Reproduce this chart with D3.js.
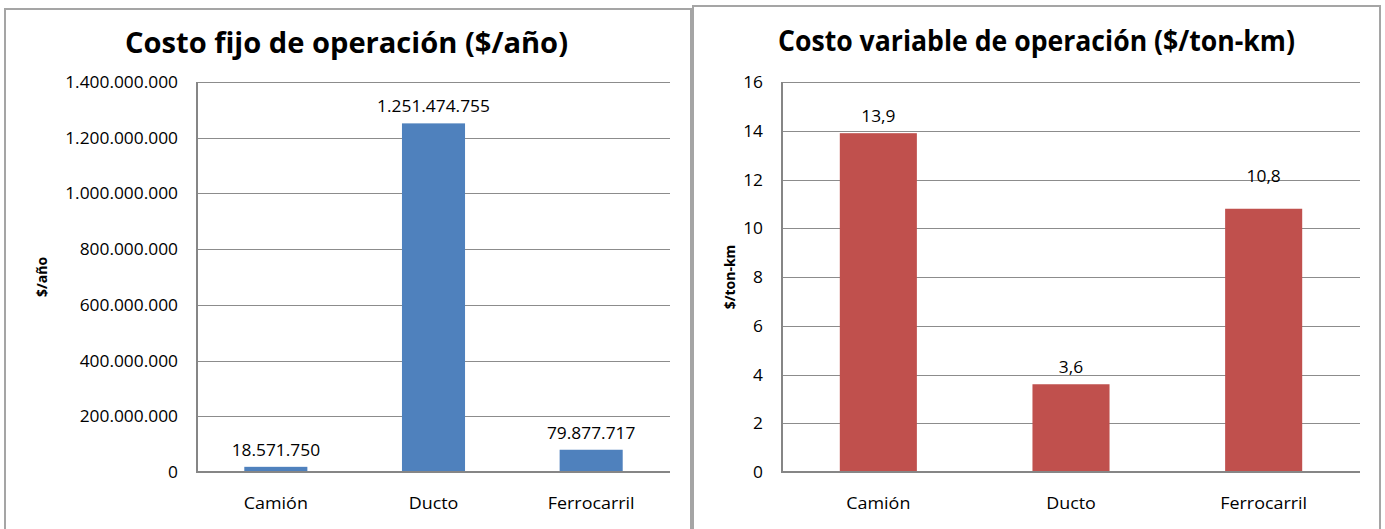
<!DOCTYPE html>
<html>
<head>
<meta charset="utf-8">
<script src="https://cdn.jsdelivr.net/npm/d3@7"></script>
<style>
  html, body { margin: 0; padding: 0; background: #fff; }
  svg { display: block; }
  text { font-family: "Open Sans", "Noto Sans", sans-serif; fill: #000; }
</style>
</head>
<body>
<svg id="chart" width="1385" height="529"></svg>
<script>
// Shared categories
const categories = ["Camión", "Ducto", "Ferrocarril"];

// Fixed operating cost ($/año)
const fixedCost = [18571750, 1251474755, 79877717];
const fixedTicks = [0, 200000000, 400000000, 600000000, 800000000, 1000000000, 1200000000, 1400000000];

// Variable operating cost ($/ton-km)
const variableCost = [13.9, 3.6, 10.8];
const variableTicks = [0, 2, 4, 6, 8, 10, 12, 14, 16];
// extra lift for data labels (px) in the variable-cost chart
const variableLabelLift = [0, 0, 16];

const svg = d3.select("#chart");

// es-style number formats: "." thousands, "," decimals
const esLocale = d3.formatLocale({ decimal: ",", thousands: ".", grouping: [3], currency: ["$", ""] });
const fmtInt = esLocale.format(",d");
const fmtDec = esLocale.format(",.1f");

const SX = 1.12; // horizontal stretch applied to text

function stretched(sel, x, y) {
  return sel.attr("transform", `translate(${x},${y}) scale(${SX},1)`);
}

function drawPanel(cfg) {
  const g = svg.append("g");

  // panel frame
  g.append("rect")
    .attr("x", cfg.frame[0]).attr("y", cfg.frame[1])
    .attr("width", cfg.frame[2]).attr("height", cfg.frame[3])
    .attr("fill", "#fff").attr("stroke", "#a5a5a5").attr("stroke-width", 2);

  const x = d3.scaleBand().domain(categories).range([cfg.left, cfg.right]).paddingInner(0.6).paddingOuter(0.3);
  const y = d3.scaleLinear().domain([0, d3.max(cfg.ticks)]).range([cfg.bottom, cfg.top]);

  // gridlines
  g.append("g").selectAll("line").data(cfg.ticks.filter(t => t > 0)).join("line")
    .attr("x1", cfg.left).attr("x2", cfg.right)
    .attr("y1", d => Math.round(y(d)) + 0.5).attr("y2", d => Math.round(y(d)) + 0.5)
    .attr("stroke", "#8c8c8c").attr("stroke-width", 1);

  // tick labels
  g.append("g").selectAll("text").data(cfg.ticks).join("text")
    .each(function (d) { stretched(d3.select(this), cfg.left - 19, y(d) + 6); })
    .attr("text-anchor", "end")
    .style("font-size", "15.5px")
    .text(d => cfg.fmtTick(d));

  // bars
  g.append("g").selectAll("rect").data(cfg.values).join("rect")
    .attr("x", (d, i) => x(categories[i]))
    .attr("width", x.bandwidth())
    .attr("y", d => y(d))
    .attr("height", d => cfg.bottom - y(d))
    .attr("fill", cfg.color);

  // axes lines
  g.append("line").attr("x1", cfg.left).attr("x2", cfg.left)
    .attr("y1", cfg.top).attr("y2", cfg.bottom)
    .attr("stroke", "#868686").attr("stroke-width", 2);
  g.append("line").attr("x1", cfg.left - 1).attr("x2", cfg.right)
    .attr("y1", cfg.bottom).attr("y2", cfg.bottom)
    .attr("stroke", "#868686").attr("stroke-width", 2);

  // data labels
  g.append("g").selectAll("text").data(cfg.values).join("text")
    .each(function (d, i) {
      stretched(d3.select(this), x(categories[i]) + x.bandwidth() / 2, y(d) - 11 - (cfg.lift ? cfg.lift[i] : 0));
    })
    .attr("text-anchor", "middle")
    .style("font-size", "15.5px")
    .text(d => cfg.fmtLabel(d));

  // category labels
  g.append("g").selectAll("text").data(categories).join("text")
    .each(function (d) { stretched(d3.select(this), x(d) + x.bandwidth() / 2, cfg.bottom + 37); })
    .attr("text-anchor", "middle")
    .style("font-size", "16px")
    .text(d => d);

  // title
  g.append("text")
    .attr("x", cfg.titleX).attr("y", cfg.titleY)
    .attr("textLength", cfg.titleW).attr("lengthAdjust", "spacingAndGlyphs")
    .style("font-size", "28px").style("font-weight", "bold")
    .text(cfg.title);

  // y-axis title
  g.append("text")
    .attr("transform", `translate(${cfg.yTitleX},${(cfg.top + cfg.bottom) / 2}) rotate(-90)`)
    .attr("text-anchor", "middle")
    .style("font-size", "14px").style("font-weight", "bold")
    .text(cfg.yTitle);
}

drawPanel({
  frame: [5, 9, 686, 540],
  left: 197, right: 670, top: 82, bottom: 472,
  ticks: fixedTicks, values: fixedCost, color: "#4F81BD",
  fmtTick: fmtInt, fmtLabel: fmtInt,
  title: "Costo fijo de operación ($/año)", titleX: 125, titleY: 53, titleW: 443,
  yTitle: "$/año", yTitleX: 47
});

drawPanel({
  frame: [693, 6, 687, 540],
  left: 782, right: 1360, top: 82, bottom: 472,
  ticks: variableTicks, values: variableCost, color: "#C0504D",
  fmtTick: fmtInt, fmtLabel: fmtDec, lift: variableLabelLift,
  title: "Costo variable de operación ($/ton-km)", titleX: 778, titleY: 51, titleW: 517,
  yTitle: "$/ton-km", yTitleX: 735
});
</script>
</body>
</html>
